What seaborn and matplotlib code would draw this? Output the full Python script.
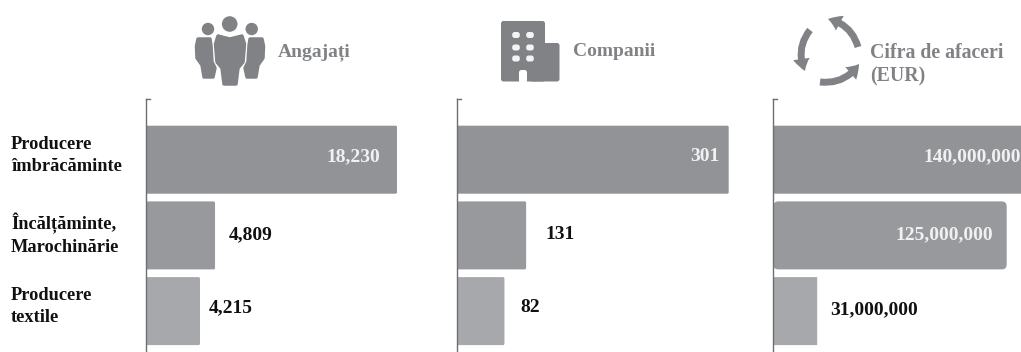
import matplotlib
matplotlib.use("Agg")
import matplotlib.pyplot as plt
import pandas as pd
import seaborn as sns
from matplotlib.patches import Circle, FancyArrowPatch, FancyBboxPatch, Polygon

# ---- data ----
categories = ["Producere\nîmbrăcăminte", "Încălțăminte,\nMarochinărie", "Producere\ntextile"]
panel_titles = ["Angajați", "Companii", "Cifra de afaceri\n(EUR)"]
value_labels = [
    ["18,230", "4,809", "4,215"],
    ["301", "131", "82"],
    ["140,000,000", "125,000,000", "31,000,000"],
]
# Drawn bar lengths: the source's bars are not proportional to their printed labels,
# so these are read from the bar lengths in the picture, in each panel's own units.
angajati_lengths = [18230, 5040, 3950]
companii_lengths = [301, 77, 53]
cifra_lengths = [140e6, 125e6, 23.5e6]
bar_lengths = [angajati_lengths, companii_lengths, cifra_lengths]

# ---- style ----
W, H = 1021, 352
BAR_COLORS = ["#929397", "#98999c", "#a7a8ab"]
ICON = "#808285"
AXIS = "#6d6e71"
FONT = "Liberation Serif"
sns.set_theme(style="white")
plt.rcParams["font.family"] = [FONT, "DejaVu Serif"]

fig = plt.figure(figsize=(W / 100, H / 100), dpi=100, facecolor="white")
px = 0.72  # points per pixel at dpi 100


def add_axes(x0, x1, y0, y1):
    return fig.add_axes([x0 / W, 1 - y1 / H, (x1 - x0) / W, (y1 - y0) / H])


panels = [
    dict(left=145.5, right=440, per_px=18230 / 251.5),
    dict(left=456.5, right=760, per_px=301 / 272.2),
    dict(left=773.3, right=W, per_px=125e6 / 233.4),
]
# row label / value label placement, in pixels
row_dy = [4.0, 0.8, 4.8]
value_pos = [
    [("r", 380), ("l", 229), ("l", 209)],
    [("r", 719), ("l", 545), ("l", 520.5)],
    [("r", 1020.5), ("r", 993), ("l", 830)],
]
value_y = [156.5, 234.5, 307.5]
value_y3 = [156.5, 234.5, 309.5]
PITCH = 75.7
TOP, BOTTOM, C0 = 99, 352, 159.7

for i, p in enumerate(panels):
    ax = add_axes(p["left"], p["right"], TOP, BOTTOM)
    df = pd.DataFrame({"cat": categories, "len": bar_lengths[i]})
    sns.barplot(data=df, y="cat", x="len", hue="cat", order=categories, hue_order=categories,
                palette=BAR_COLORS, legend=False, width=68 / PITCH, ax=ax, saturation=1)
    ax.set_xlim(0, (p["right"] - p["left"]) * p["per_px"])
    ax.set_ylim((BOTTOM - C0) / PITCH, (TOP - C0) / PITCH)
    ax.set_xlabel("")
    ax.set_ylabel("")
    ax.set_xticks([])
    ax.set_yticks([])
    ax.patch.set_alpha(0)
    for s in ("right", "bottom"):
        ax.spines[s].set_visible(False)
    ax.spines["left"].set_color(AXIS)
    ax.spines["left"].set_linewidth(1.0)
    ax.spines["top"].set_color(AXIS)
    ax.spines["top"].set_linewidth(1.0)
    ax.spines["top"].set_bounds(0, 4 * p["per_px"])
    ax.spines["left"].set_zorder(5)

    # turn seaborn's rectangles into slightly rounded ones
    for j, bar in enumerate(list(ax.patches)):
        x, y, w, h = bar.get_x(), bar.get_y(), bar.get_width(), bar.get_height()
        color = bar.get_facecolor()
        bar.remove()
        radius_px = 5 if (i == 2 and j == 1) else (0 if (i == 2 and j == 2) else 1.5)
        ax.add_patch(FancyBboxPatch(
            (x, y), w, h, boxstyle=f"round,pad=0,rounding_size={radius_px * p['per_px'] + 1e-9}",
            mutation_aspect=(1 / PITCH) / p["per_px"], fc=color, ec="none", zorder=2))

    # value labels
    for j, (side, xpix) in enumerate(value_pos[i]):
        ypix = (value_y3 if i == 2 else value_y)[j]
        inside = side == "r"
        ax.annotate(value_labels[i][j], xy=((xpix - p["left"]) * p["per_px"], (ypix - C0) / PITCH),
                    xycoords="data", ha="right" if inside else "left", va="center",
                    fontsize=14, fontweight="bold", color="#f1f1f2" if inside else "#111111",
                    zorder=6, annotation_clip=False)

    # row labels (left panel only)
    if i == 0:
        for j, c in enumerate(categories):
            ax.annotate(c, xy=(0, j), xycoords="data", xytext=(-134.5 * px, row_dy[j] * px),
                        textcoords="offset points", ha="left", va="center", fontsize=13.2,
                        fontweight="bold", color="#111111", linespacing=1.38,
                        annotation_clip=False)

# ---- decorative overlay in pixel coordinates ----
ov = fig.add_axes([0, 0, 1, 1], zorder=10)
ov.set_xlim(0, W)
ov.set_ylim(H, 0)
ov.axis("off")
ov.patch.set_alpha(0)


def blob(points):
    ov.add_patch(Polygon(points, closed=True, fc=ICON, ec=ICON, lw=2.5, joinstyle="round"))


# people icon
ov.add_patch(Circle((229.7, 24), 7.8, fc=ICON, ec="none"))
ov.add_patch(Circle((208, 29), 6.2, fc=ICON, ec="none"))
ov.add_patch(Circle((251.7, 29), 6.2, fc=ICON, ec="none"))
blob([(218, 36), (229.7, 39), (242, 36), (244.5, 44), (243, 62), (238, 68), (236, 84), (224, 84),
      (222, 68), (217, 62), (215.5, 44)])
blob([(198, 39), (210, 39), (211, 46), (212, 62), (215, 68), (213, 77), (204, 77), (202, 65),
      (197, 58), (196.5, 46)])
blob([(250, 39), (262, 39), (263.5, 46), (263, 58), (258, 65), (256, 77), (247, 77), (245, 68),
      (248, 62), (249, 46)])

# building icon
ov.add_patch(FancyBboxPatch((501, 21), 44, 60.5, boxstyle="round,pad=0,rounding_size=2.5", fc=ICON, ec="none"))
ov.add_patch(FancyBboxPatch((530, 43), 29.5, 38.5, boxstyle="round,pad=0,rounding_size=2.5", fc=ICON, ec="none"))
ov.add_patch(FancyBboxPatch((519, 70), 8, 13, boxstyle="round,pad=0,rounding_size=2.5", fc="white", ec="none"))
for wx in (516, 530):
    for wy in (35, 47.5, 58.5):
        ov.add_patch(FancyBboxPatch((wx - 3.8, wy - 3), 7.6, 6, boxstyle="round,pad=0,rounding_size=2.5",
                                    fc="#f4f4f4", ec="none"))

# cycle icon
for start, end, rad in [((858, 47), (828, 19), 0.3), ((810, 30), (805, 71), 0.3), ((820, 82), (859, 64), 0.3)]:
    ov.add_patch(FancyArrowPatch(start, end, connectionstyle=f"arc3,rad={rad}",
                                 arrowstyle="simple,head_length=9,head_width=12,tail_width=5",
                                 mutation_scale=1, fc=ICON, ec="none", shrinkA=0, shrinkB=0))

# panel titles
ov.text(278, 52, panel_titles[0], ha="left", va="center", fontsize=14, fontweight="bold", color=ICON)
ov.text(572.5, 52, panel_titles[1], ha="left", va="center", fontsize=14, fontweight="bold", color=ICON)
ov.text(870, 65, panel_titles[2], ha="left", va="center", fontsize=14.3, fontweight="bold", color=ICON,
        linespacing=1.25)

fig.savefig("out.png", dpi=100, facecolor="white")
